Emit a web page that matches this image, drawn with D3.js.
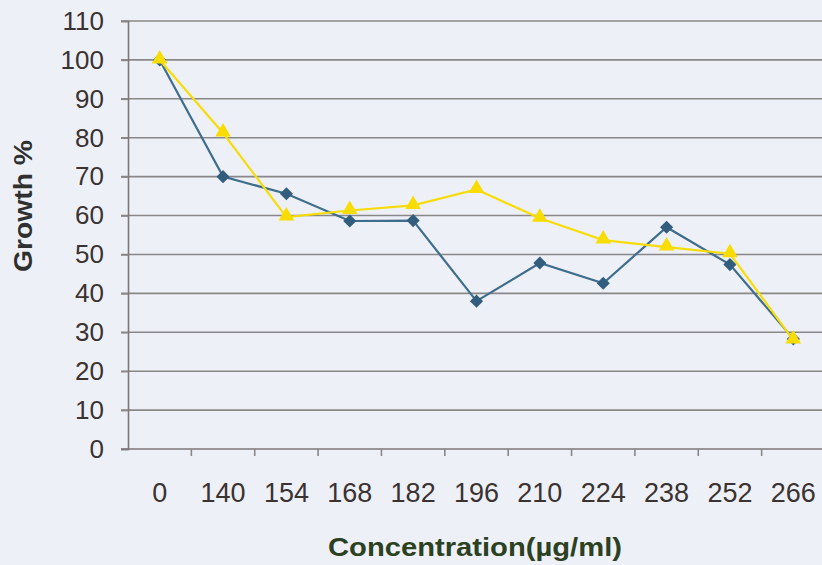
<!DOCTYPE html>
<html lang="en">
<head>
<meta charset="UTF-8">
<title>Growth % vs Concentration</title>
<script src="https://d3js.org/d3.v7.min.js"></script>
<style>
  body { margin: 0; background: #edf1f7; font-family: "Liberation Sans", Arial, sans-serif; }
  svg { display: block; }
  .y-axis .tick text { font-size: 26px; fill: #3b3232; }
  .x-axis .tick text { font-size: 27px; fill: #3b3232; }
  .axis-title { font-size: 25px; font-weight: bold; }
</style>
</head>
<body>
<svg></svg>
<script>
// categories (µg/ml) and the two series
const concentrations = ["0", "140", "154", "168", "182", "196", "210", "224", "238", "252", "266"];
const blueSeries   = [100, 70, 65.6, 58.6, 58.7, 38, 47.8, 42.6, 57, 47.4, 28.3];
const yellowSeries = [100, 81.2, 59.6, 61.3, 62.6, 66.7, 59.3, 53.7, 51.9, 50.2, 28];
const yTicks = d3.range(0, 111, 10);

const W = 822, H = 565;
const plotLeft = 128, plotRight = 825, plotTop = 21, plotBottom = 449;

const svg = d3.select("svg").attr("width", W).attr("height", H);

const x = d3.scaleBand().domain(concentrations).range([plotLeft, plotRight]).padding(0);
const y = d3.scaleLinear().domain([0, 110]).range([plotBottom, plotTop]);

// horizontal gridlines
svg.append("g")
  .selectAll("line")
  .data(yTicks.filter(d => d > 0))
  .enter().append("line")
  .attr("x1", plotLeft - 7).attr("x2", W)
  .attr("y1", d => y(d)).attr("y2", d => y(d))
  .attr("stroke", "#8a8788").attr("stroke-width", 1.6);

// y axis
const yAxis = svg.append("g")
  .attr("class", "y-axis")
  .attr("transform", `translate(${plotLeft},0)`)
  .call(d3.axisLeft(y).tickValues(yTicks).tickSize(7).tickPadding(17));
yAxis.select(".domain").attr("stroke", "#7d7577").attr("stroke-width", 1.6);
yAxis.selectAll(".tick line").attr("stroke", "#8a8788").attr("stroke-width", 1.6);

// x axis, ticks on band edges
const xAxis = svg.append("g")
  .attr("class", "x-axis")
  .attr("transform", `translate(0,${plotBottom})`)
  .call(d3.axisBottom(x).tickSize(0).tickPadding(34));
xAxis.select(".domain").attr("stroke", "#7d7577").attr("stroke-width", 1.6)
  .attr("d", `M${plotLeft - 7},0H${W}`);
svg.append("g")
  .selectAll("line")
  .data(concentrations)
  .enter().append("line")
  .attr("x1", d => x(d) + x.bandwidth()).attr("x2", d => x(d) + x.bandwidth())
  .attr("y1", plotBottom).attr("y2", plotBottom + 7)
  .attr("stroke", "#8a8788").attr("stroke-width", 1.6);

const cx = i => x(concentrations[i]) + x.bandwidth() / 2;
const line = d3.line().x((d, i) => cx(i)).y(d => y(d));

// blue series with diamonds
svg.append("path").datum(blueSeries)
  .attr("d", line).attr("fill", "none")
  .attr("stroke", "#3f6d8c").attr("stroke-width", 2.2);
svg.append("g").selectAll("path")
  .data(blueSeries)
  .enter().append("path")
  .attr("transform", (d, i) => `translate(${cx(i)},${y(d)})`)
  .attr("d", d3.symbol().type(d3.symbolDiamond2).size(110))
  .attr("fill", "#335d7d");

// yellow series with triangles
svg.append("path").datum(yellowSeries)
  .attr("d", line).attr("fill", "none")
  .attr("stroke", "#f7dc0a").attr("stroke-width", 2.2);
svg.append("g").selectAll("path")
  .data(yellowSeries)
  .enter().append("path")
  .attr("transform", (d, i) => `translate(${cx(i)},${y(d) - 1})`)
  .attr("d", d3.symbol().type(d3.symbolTriangle).size(105))
  .attr("fill", "#f9dc00");

// axis titles
svg.append("text")
  .attr("class", "axis-title")
  .attr("transform", "translate(32,206) rotate(-90)")
  .attr("text-anchor", "middle")
  .attr("textLength", 132).attr("lengthAdjust", "spacingAndGlyphs")
  .attr("fill", "#2f3130")
  .text("Growth %");

svg.append("text")
  .attr("class", "axis-title")
  .attr("x", 475).attr("y", 556)
  .attr("text-anchor", "middle")
  .attr("textLength", 294).attr("lengthAdjust", "spacingAndGlyphs")
  .attr("fill", "#2c4022")
  .text("Concentration(µg/ml)");
</script>
</body>
</html>
